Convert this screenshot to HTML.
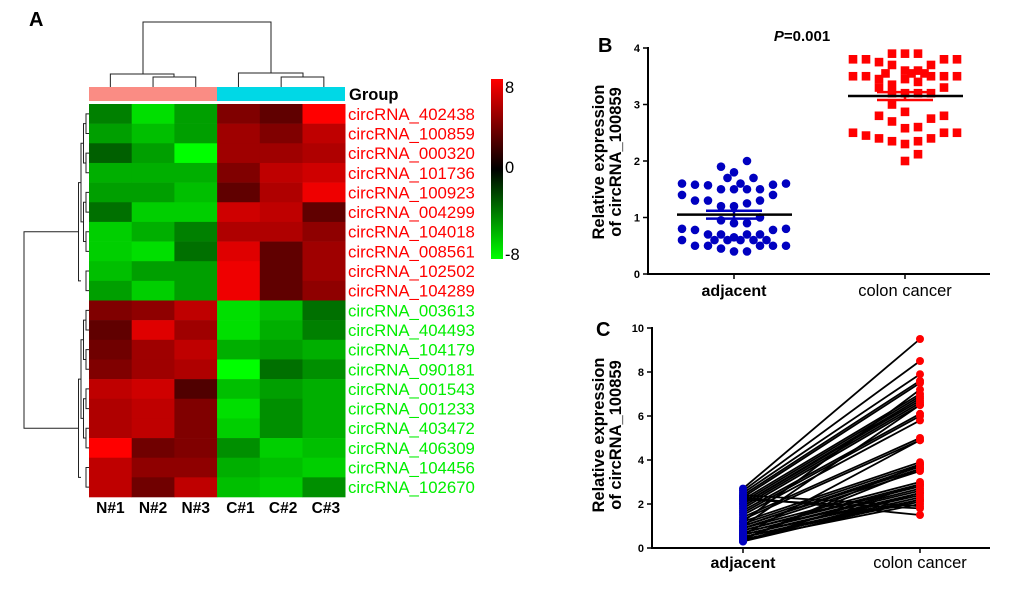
<!DOCTYPE html>
<html><head><meta charset="utf-8"><style>
body{margin:0;background:#fff;}
svg{display:block;font-family:"Liberation Sans",Arial,sans-serif;}
</style></head><body>
<svg id="fig" width="1020" height="594" viewBox="0 0 1020 594">
<text x="29" y="26" font-size="20" font-weight="bold">A</text>
<text x="598" y="52" font-size="20" font-weight="bold">B</text>
<text x="596" y="336" font-size="20" font-weight="bold">C</text>
<g id="heat"></g>
<g id="pb"></g>
<g id="pc"></g>
</svg>
<script>
const genes=["circRNA_402438","circRNA_100859","circRNA_000320","circRNA_101736","circRNA_100923","circRNA_004299","circRNA_104018","circRNA_008561","circRNA_102502","circRNA_104289","circRNA_003613","circRNA_404493","circRNA_104179","circRNA_090181","circRNA_001543","circRNA_001233","circRNA_403472","circRNA_406309","circRNA_104456","circRNA_102670"];
const samples=["N#1","N#2","N#3","C#1","C#2","C#3"];
const heatValues=[
[-4,-7,-5,4,3,8],[-5,-6,-5,5,4,6],[-3,-5,-8,5,5,5.5],[-5.5,-5.5,-5.5,4,6,6.5],[-5,-5,-6,3,5.5,7.5],
[-3.5,-6.5,-6.5,6.5,6,3],[-6.5,-5.5,-4,5.5,5.5,4.5],[-6.5,-7,-3.5,7,3,5],[-6,-5,-5,7.5,3,5],[-5,-6.5,-5,7.5,3,4.5],
[4,4.5,6,-7,-6,-3.5],[3,7,5,-7,-5.5,-4],[3.5,5,6,-5.5,-5,-5.5],[4,5,5.5,-8,-3.5,-4.5],[6,6.5,2.5,-6,-5,-5.5],
[5.5,6,4,-7,-4.5,-5.5],[5.5,6,4,-6.5,-4.5,-5.5],[8,3.5,4,-4.5,-6.5,-6],[6,4.5,4.5,-5.5,-6,-6.5],[6,3.5,6,-6,-6.5,-4.5]];
const adjB=[[-4,1.6],[-3,1.58],[-2,1.57],[-1,1.5],[0,1.5],[1,1.5],[2,1.5],[3,1.58],[4,1.6],[-4,1.4],[3,1.4],[-1,1.9],[0,1.8],[-0.5,1.7],[1.5,1.7],[1,2.0],[0.5,1.6],[-3,1.3],[-2,1.3],[2,1.3],[1,1.25],[-1,1.2],[0,1.2],[-1,0.95],[0,0.9],[1,0.9],[2,1.0],[-4,0.8],[-3,0.78],[3,0.78],[4,0.8],[-2,0.7],[-1,0.7],[1,0.7],[2,0.7],[-4,0.6],[-1.5,0.6],[-0.5,0.6],[0,0.65],[0.5,0.6],[1.5,0.6],[2.5,0.6],[-3,0.5],[-2,0.5],[2,0.5],[3,0.5],[4,0.5],[-1,0.45],[0,0.4],[1,0.4]];
const canB=[[-4,3.8],[-3,3.8],[-2,3.75],[-1,3.9],[0,3.9],[1,3.9],[2,3.7],[3,3.8],[4,3.8],[-4,3.5],[-3,3.5],[-2,3.45],[-1.5,3.55],[-1,3.7],[0,3.6],[0.5,3.55],[1,3.6],[1.5,3.55],[2,3.5],[3,3.5],[4,3.5],[-2,3.3],[-1,3.35],[0,3.45],[1,3.4],[-1,3.2],[0,3.2],[1,3.2],[2,3.2],[3,3.3],[-1,3.0],[0,2.87],[-2,2.8],[3,2.8],[2,2.75],[-1,2.7],[0,2.58],[1,2.6],[-4,2.5],[-3,2.45],[-2,2.4],[-1,2.35],[0,2.3],[1,2.35],[2,2.4],[3,2.5],[4,2.5],[1,2.12],[0,2.0]];
const meanB=[1.05,3.15];
const semB=[0.07,0.07];
const ticksB=[0,1,2,3,4];
const adjC=[2.7,2.6,2.5,2.4,2.3,2.2,2.1,2.0,2.0,1.9,1.8,1.7,1.6,1.5,1.4,1.3,1.2,1.1,1.0,1.0,0.9,0.9,0.8,0.8,0.7,0.7,0.6,0.6,0.5,0.5,0.5,0.4,0.4,0.4,0.3,0.3,0.3,2.3,2.2,2.4,1.2,1.0,0.6];
const canC=[9.5,8.5,7.9,7.6,7.5,7.0,6.9,6.8,6.7,6.6,6.5,6.1,6.0,5.8,5.0,4.9,3.9,3.8,3.7,3.6,3.5,3.0,2.9,2.8,2.7,2.6,2.5,2.4,2.3,2.2,2.1,2.0,3.8,3.6,2.9,2.5,2.2,1.5,1.8,1.9,7.2,6.5,4.9];
const ticksC=[0,2,4,6,8,10];
const NS="http://www.w3.org/2000/svg";
function mk(p,t,a){const e=document.createElementNS(NS,t);for(const k in a)e.setAttribute(k,a[k]);p.appendChild(e);return e;}
function col(v){v=Math.max(-8,Math.min(8,v));const c=Math.round(255*Math.abs(v)/8);return v>=0?`rgb(${c},0,0)`:`rgb(0,${c},0)`;}
const H=document.getElementById('heat');
const hx0=89,hy0=104,cw=42.7,rh=19.65;
heatValues.forEach((row,i)=>row.forEach((v,j)=>{
 const r=mk(H,'rect',{x:hx0+j*cw,y:hy0+i*rh,width:cw+0.3,height:rh+0.3,fill:col(v)});
 
 
}));
genes.forEach((g,i)=>{const t=mk(H,'text',{x:348,y:hy0+i*rh+rh/2+6,'font-size':16.8,fill:i<10?'#ff0000':'#00ee00'});t.textContent=g;
 
 });
samples.forEach((s,j)=>{const t=mk(H,'text',{x:hx0+j*cw+cw/2+(j>2?2:0),y:513,'font-size':15.5,'font-weight':'bold','text-anchor':'middle'});t.textContent=s;
 
 });
let gr=mk(H,'rect',{x:89,y:87,width:128,height:14,fill:'#fa8c84'});
gr=mk(H,'rect',{x:217,y:87,width:128,height:14,fill:'#00d8e6'});
let gt=mk(H,'text',{x:349,y:100,'font-size':16.5,'font-weight':'bold'});gt.textContent='Group';
const defs=mk(H,'defs',{});const lg=mk(defs,'linearGradient',{id:'cb',x1:0,y1:0,x2:0,y2:1});
mk(lg,'stop',{offset:'0',['stop-color']:'#ff0000'});mk(lg,'stop',{offset:'0.5',['stop-color']:'#000'});mk(lg,'stop',{offset:'1',['stop-color']:'#00ff00'});
let cb=mk(H,'rect',{x:491,y:79,width:12,height:180,fill:'url(#cb)'});
[['8',93],['0',173],['-8',260]].forEach(a=>{const t=mk(H,'text',{x:505,y:a[1],'font-size':16.5});t.textContent=a[0];});
const ln=(g,x1,y1,x2,y2,w,c)=>mk(g,'line',{x1,y1,x2,y2,stroke:c||'#222','stroke-width':w||1});
const D=mk(H,'g',{});
const path=(pts)=>mk(D,'polyline',{points:pts.map(p=>p.join(',')).join(' '),fill:'none',stroke:'#222','stroke-width':1});
const cx=j=>hx0+j*cw+cw/2;
path([[cx(1)+(cx(2)-cx(1))/2,77],[cx(1),77],[cx(1),87]]);path([[cx(1)+(cx(2)-cx(1))/2,77],[cx(2),77],[cx(2),87]]);
path([[cx(0),87],[cx(0),74],[174,74],[174,77]]);
path([[cx(4),87],[cx(4),77],[cx(5),77],[cx(5),87]]);
path([[cx(3),87],[cx(3),73],[303,73],[303,77]]);
path([[143,74],[143,22],[271,22],[271,73]]);
const ry=i=>hy0+i*rh+rh/2;
function ladder(a,b){
 const ys=[];for(let i=a;i<=b;i+=2){const y1=ry(i),y2=ry(Math.min(i+1,b));path([[89,y1],[86,y1],[86,y2],[89,y2]]);ys.push((y1+y2)/2);}
 let cur=ys;let x=86;
 while(cur.length>1){const nx=[];x-=2.5;for(let k=0;k<cur.length;k+=2){if(k+1<cur.length){path([[x+2.5,cur[k]],[x,cur[k]],[x,cur[k+1]],[x+2.5,cur[k+1]]]);nx.push((cur[k]+cur[k+1])/2);}else nx.push(cur[k]);}cur=nx;}
 return [x,cur[0]];
}
const t1=ladder(0,9),t2=ladder(10,19);
path([[t1[0],t1[1]],[24,t1[1]],[24,t2[1]],[t2[0],t2[1]]]);
const B=document.getElementById('pb');
const bx0=648,bx1=990,by0=274,byu=56.5,bxa=734,bxc=905,step=13;
const yB=v=>by0-v*byu;
ln(B,bx0,yB(4)-1,bx0,by0+1,2,'#000');ln(B,bx0-1,by0,bx1,by0,2,'#000');
ticksB.forEach(v=>{ln(B,bx0-5,yB(v),bx0,yB(v),1.5,'#000');const t=mk(B,'text',{x:bx0-8,y:yB(v)+4,'font-size':11,'font-weight':'bold','text-anchor':'end'});t.textContent=v;});
[bxa,bxc].forEach(x=>ln(B,x,by0,x,by0+5,1.5,'#000'));
adjB.forEach(p=>{const c=mk(B,'circle',{cx:bxa+p[0]*step,cy:yB(p[1]),r:4.3,fill:'#0000c0'});});
canB.forEach(p=>{const r=mk(B,'rect',{x:bxc+p[0]*step-4.3,y:yB(p[1])-4.3,width:8.6,height:8.6,fill:'#ff0000'});});
[[bxa,'#0000c0',0],[bxc,'#ff0000',1]].forEach(a=>{const m=meanB[a[2]],s=semB[a[2]];
 ln(B,a[0]-28,yB(m+s),a[0]+28,yB(m+s),2.5,a[1]);ln(B,a[0]-28,yB(m-s),a[0]+28,yB(m-s),2.5,a[1]);ln(B,a[0],yB(m+s),a[0],yB(m-s),2.5,a[1]);
 const l=ln(B,a[0]-57,yB(m),a[0]+58,yB(m),2.5,'#000');});
let tx=mk(B,'text',{x:802,y:41,'font-size':15,'font-weight':'bold','text-anchor':'middle'});tx.innerHTML='<tspan font-style="italic">P</tspan>=0.001';
tx=mk(B,'text',{x:bxa,y:296,'font-size':16,'font-weight':'bold','text-anchor':'middle'});tx.textContent='adjacent';
tx=mk(B,'text',{x:bxc,y:296,'font-size':16.5,'text-anchor':'middle'});tx.textContent='colon cancer';
tx=mk(B,'text',{transform:'translate(604,162) rotate(-90)','font-size':16.5,'font-weight':'bold','text-anchor':'middle'});tx.innerHTML='<tspan x="0" dy="0">Relative expression</tspan><tspan x="0" dy="17">of circRNA_100859</tspan>';
const C=document.getElementById('pc');
const cx0=652,cx1=990,cy0=548,cyu=22,cxa=743,cxc=920;
const yC=v=>cy0-v*cyu;
ln(C,cx0,yC(10)-1,cx0,cy0+1,2,'#000');ln(C,cx0-1,cy0,cx1,cy0,2,'#000');
ticksC.forEach(v=>{ln(C,cx0-5,yC(v),cx0,yC(v),1.5,'#000');const t=mk(C,'text',{x:cx0-8,y:yC(v)+4,'font-size':11,'font-weight':'bold','text-anchor':'end'});t.textContent=v;});
[cxa,cxc].forEach(x=>ln(C,x,cy0,x,cy0+5,1.5,'#000'));
adjC.forEach((a,i)=>{const l=ln(C,cxa,yC(a),cxc,yC(canC[i]),1.8,'#000');});
adjC.forEach(a=>{const c=mk(C,'circle',{cx:cxa,cy:yC(a),r:4,fill:'#0000c0'});});
canC.forEach(a=>{const c=mk(C,'circle',{cx:cxc,cy:yC(a),r:4,fill:'#ff0000'});});
tx=mk(C,'text',{x:cxa,y:568,'font-size':16,'font-weight':'bold','text-anchor':'middle'});tx.textContent='adjacent';
tx=mk(C,'text',{x:cxc,y:568,'font-size':16.5,'text-anchor':'middle'});tx.textContent='colon cancer';
tx=mk(C,'text',{transform:'translate(604,435) rotate(-90)','font-size':16.5,'font-weight':'bold','text-anchor':'middle'});tx.innerHTML='<tspan x="0" dy="0">Relative expression</tspan><tspan x="0" dy="17">of circRNA_100859</tspan>';
</script>
</body></html>
